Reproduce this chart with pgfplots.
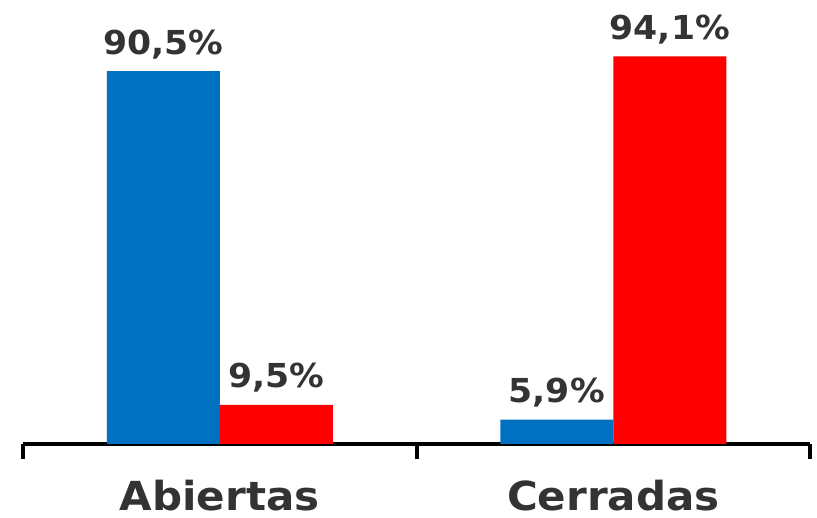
\documentclass[border=0pt]{standalone}
\usepackage{pgfplots}
\pgfplotsset{compat=1.18}
\usepackage{fontspec}
\setmainfont{DejaVu Sans}[FakeStretch=1.05]
\definecolor{myblue}{HTML}{0070C0}
\definecolor{myred}{HTML}{FF0000}
\definecolor{txt}{HTML}{333333}
\begin{document}
\begin{tikzpicture}
\begin{axis}[
  name=ax,
  at={(0,0)}, anchor=south west,
  scale only axis,
  width=787pt, height=412pt,
  xmin=-0.5, xmax=1.5,
  ymin=0, ymax=100,
  axis y line=none,
  axis x line*=bottom,
  axis line style={line width=4pt, black, -},
  xtick={0,1},
  xticklabels={Abiertas,Cerradas},
  major tick length=0pt,
  extra x ticks={-0.5,0.5,1.5},
  extra x tick labels={},
  extra x tick style={major tick length=15pt, tick style={line width=4pt, black}, tick align=outside},
  xticklabel style={font=\bfseries\fontsize{40}{40}\selectfont, text=txt, anchor=base, yshift=-67pt, inner sep=0pt},
  ybar, bar width=113pt,
  bar shift auto,
  nodes near coords={\pgfmathprintnumber[fixed, precision=1, fixed zerofill, use comma, assume math mode=true]{\pgfplotspointmeta}\%},
  nodes near coords style={font=\bfseries\fontsize{33}{33}\selectfont, text=txt, anchor=base, inner sep=0pt, yshift=17pt},
  clip=false,
]
\addplot[fill=myblue, draw=none, bar shift=-56.5pt] coordinates {(0,90.5) (1,5.9)};
\addplot[fill=myred, draw=none, bar shift=56.5pt] coordinates {(0,9.5) (1,94.1)};
\end{axis}
\pgfresetboundingbox
\path[use as bounding box] (ax.south west) ++(-23pt,-74pt) rectangle ++(817pt,518pt);
\end{tikzpicture}
\end{document}
